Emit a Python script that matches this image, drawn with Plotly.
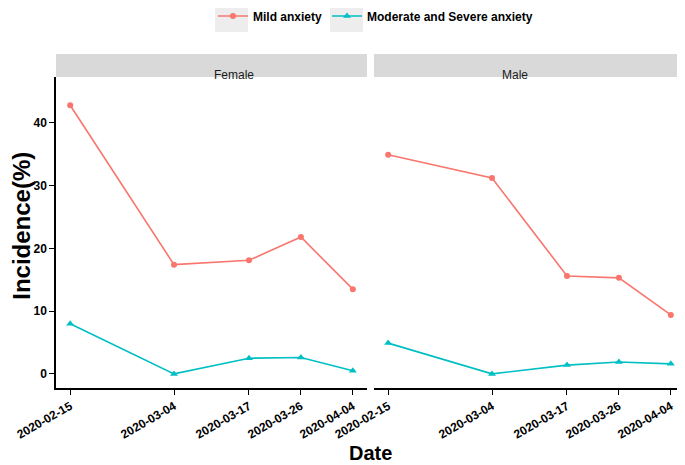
import plotly.graph_objects as go

dates = ["2020-02-15", "2020-03-04", "2020-03-17", "2020-03-26", "2020-04-04"]
female_mild = [42.8, 17.4, 18.1, 21.8, 13.5]
female_severe = [8.0, 0.0, 2.5, 2.6, 0.5]
male_mild = [34.9, 31.2, 15.6, 15.3, 9.4]
male_severe = [4.9, 0.0, 1.4, 1.9, 1.6]
panels = ["Female", "Male"]

RED = "#F8766D"
CYAN = "#00BFC4"
FONT = "Liberation Sans"

# page body has an 8px margin, so the figure is drawn 8px smaller
W, H = 677, 457
L, T, B = 48, 69, 77
PW, PH = W - L, H - T - B

fig = go.Figure()

series = [
    ("x", "y", female_mild, female_severe, True),
    ("x2", "y2", male_mild, male_severe, False),
]
for xa, ya, mild, severe, show in series:
    fig.add_trace(go.Scatter(
        x=dates, y=mild, xaxis=xa, yaxis=ya, mode="lines+markers",
        name="Mild anxiety", legendgroup="mild", showlegend=show,
        line=dict(color=RED, width=1.6),
        marker=dict(symbol="circle", size=6, color=RED),
    ))
    fig.add_trace(go.Scatter(
        x=dates, y=severe, xaxis=xa, yaxis=ya, mode="lines+markers",
        name="Moderate and Severe anxiety", legendgroup="sev", showlegend=show,
        line=dict(color=CYAN, width=1.6),
        marker=dict(symbol="triangle-up", size=7, color=CYAN),
    ))

xrange = ["2020-02-12 13:00", "2020-04-06 11:00"]
xcommon = dict(
    type="date", range=xrange, tickvals=dates, ticktext=dates,
    tickangle=-30, ticks="outside", ticklen=5, tickcolor="black",
    showgrid=False, zeroline=False, showline=True, linecolor="black",
    linewidth=1.5, tickfont=dict(family=FONT, size=12, color="black", weight="bold"),
)
ycommon = dict(
    range=[-2.25, 47.3], showgrid=False, zeroline=False,
    tickvals=[0, 10, 20, 30, 40],
)
dom1 = [0, 311 / PW]
dom2 = [318 / PW, 1]

fig.update_layout(
    width=W, height=H,
    margin=dict(l=L, r=0, t=T, b=B, autoexpand=False),
    plot_bgcolor="white", paper_bgcolor="white",
    font=dict(family=FONT, color="black"),
    xaxis={**xcommon, "domain": dom1, "anchor": "y"},
    xaxis2={**xcommon, "domain": dom2, "anchor": "y2"},
    yaxis={**ycommon, "anchor": "x", "showline": True, "linecolor": "black",
           "linewidth": 1.5, "ticks": "outside", "ticklen": 5, "tickcolor": "black",
           "tickfont": dict(family=FONT, size=12, color="black", weight="bold")},
    yaxis2={**ycommon, "anchor": "x2", "showticklabels": False, "showline": False},
    legend=dict(
        orientation="h", x=(205 - L) / PW, xanchor="left",
        y=1 + (T - 8) / PH, yanchor="middle",
        font=dict(family=FONT, size=12, color="black", weight="bold"),
        bgcolor="rgba(0,0,0,0)",
    ),
    showlegend=True,
)

# grey legend key backgrounds
for x0, x1 in [(207, 240), (322, 355)]:
    fig.add_shape(type="rect", xref="paper", yref="paper",
                  x0=(x0 - L) / PW, x1=(x1 - L) / PW,
                  y0=1 + (T - 24) / PH, y1=1 + T / PH,
                  fillcolor="#EDEDED", line=dict(width=0))

# facet strips
strip_h = 23 / PH
for name, dom in zip(panels, [dom1, dom2]):
    fig.add_shape(type="rect", xref="paper", yref="paper",
                  x0=dom[0], x1=dom[1], y0=1, y1=1 + strip_h,
                  fillcolor="#D9D9D9", line=dict(width=0), layer="below")
    fig.add_annotation(text=name, xref="paper", yref="paper",
                       x=(dom[0] + dom[1]) / 2, y=1 + strip_h / 2,
                       showarrow=False, font=dict(family=FONT, size=12, color="#1A1A1A"))

fig.add_annotation(text="Date", xref="paper", yref="paper", x=0.5, y=-65 / PH,
                   yanchor="middle", showarrow=False,
                   font=dict(family=FONT, size=20, color="black", weight="bold"))
fig.add_annotation(text="Incidence(%)", xref="paper", yref="paper",
                   x=(13.5 - L) / PW, y=0.52, textangle=-90,
                   xanchor="center", yanchor="middle", showarrow=False,
                   font=dict(family=FONT, size=24, color="black", weight="bold"))

fig.write_html("out.html")
